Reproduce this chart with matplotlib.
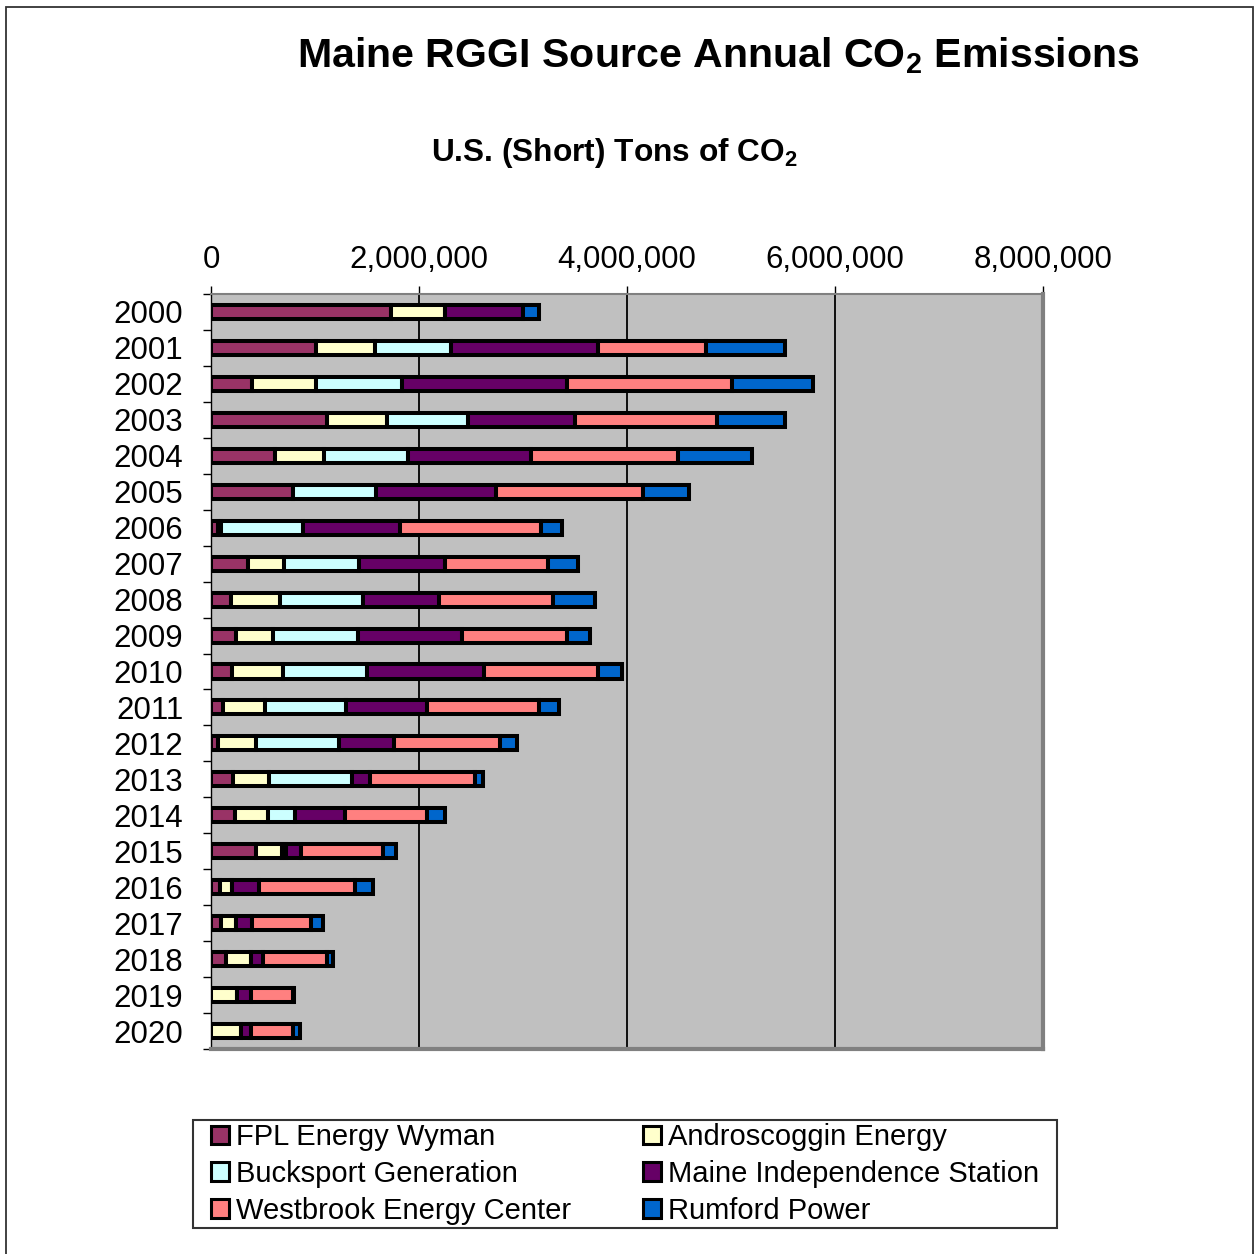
import numpy as np
import matplotlib.pyplot as plt
from matplotlib.patches import Rectangle

plt.rcParams['font.family'] = ['Liberation Sans', 'DejaVu Sans']
plt.rcParams['mathtext.fontset'] = 'custom'
plt.rcParams['mathtext.rm'] = 'Liberation Sans'
plt.rcParams['mathtext.bf'] = 'Liberation Sans:bold'

# data (short tons of CO2)
years = [str(y) for y in range(2000, 2021)]
wyman = [1734000, 1008000, 391000, 1120000, 613000, 793000, 65000, 353000, 189000, 241000,
         202000, 112000, 70000, 212000, 227000, 434000, 83000, 93000, 147000, 0, 0]
androscoggin = [520000, 568000, 620000, 568000, 476000, 0, 35000, 351000, 476000, 359000,
                487000, 411000, 363000, 350000, 322000, 253000, 122000, 145000, 238000, 250000, 292000]
bucksport = [0, 732000, 822000, 787000, 809000, 797000, 783000, 719000, 796000, 809000,
             809000, 771000, 796000, 797000, 256000, 35000, 0, 0, 0, 0, 0]
maine_indep = [748000, 1413000, 1592000, 1027000, 1181000, 1149000, 938000, 823000, 732000, 1002000,
               1131000, 783000, 527000, 167000, 488000, 145000, 254000, 158000, 112000, 135000, 90000]
westbrook = [0, 1040000, 1580000, 1362000, 1413000, 1419000, 1349000, 998000, 1092000, 1014000,
             1092000, 1079000, 1021000, 1014000, 783000, 783000, 925000, 564000, 616000, 400000, 408000]
rumford = [148000, 754000, 780000, 651000, 706000, 437000, 202000, 289000, 408000, 219000,
           228000, 193000, 161000, 77000, 171000, 125000, 177000, 113000, 61000, 15000, 67000]

series = [
    ("FPL Energy Wyman", wyman, "#993366"),
    ("Androscoggin Energy", androscoggin, "#FFFFCC"),
    ("Bucksport Generation", bucksport, "#CCFFFF"),
    ("Maine Independence Station", maine_indep, "#660066"),
    ("Westbrook Energy Center", westbrook, "#FF8080"),
    ("Rumford Power", rumford, "#0066CC"),
]

fig = plt.figure(figsize=(12.54, 12.54), dpi=100)
ax = fig.add_axes([211 / 1254, 1 - 1049 / 1254, 832 / 1254, 755 / 1254])
ax.set_facecolor('#C0C0C0')

ypos = np.arange(len(years))
left = np.zeros(len(years))
handles = []
for name, vals, col in series:
    vals = np.array(vals, dtype=float)
    b = ax.barh(ypos, vals, left=left, height=0.39, color=col,
                edgecolor='black', linewidth=2.9, label=name, zorder=3)
    handles.append(b)
    left += vals

ax.set_xlim(0, 8000000)
ax.set_ylim(20.5, -0.5)
ax.xaxis.tick_top()
ax.set_xticks([0, 2000000, 4000000, 6000000, 8000000])
ax.set_xticklabels(['0', '2,000,000', '4,000,000', '6,000,000', '8,000,000'])
ax.tick_params(axis='x', top=True, direction='out', length=6, width=1,
               color='black', pad=8, labelsize=22.5)
ax.set_yticks(ypos)
ax.set_yticklabels(years)
ax.set_yticks(np.arange(-0.5, 21, 1), minor=True)
ax.tick_params(axis='y', which='major', length=0, pad=20, labelsize=22.5)
ax.tick_params(axis='y', which='minor', length=6, width=1, color='black', direction='out')
ax.tick_params(axis='x', which='minor', length=0)

ax.grid(axis='x', color='black', linewidth=1.3, zorder=1)
ax.set_axisbelow(True)

ax.spines['left'].set_color('black')
ax.spines['left'].set_linewidth(1)
ax.spines['top'].set_color('#808080')
ax.spines['top'].set_linewidth(1.5)
ax.spines['right'].set_color('#808080')
ax.spines['right'].set_linewidth(3)
ax.spines['bottom'].set_color('#808080')
ax.spines['bottom'].set_linewidth(3)

fig.text(718 / 1254, 1 - 56 / 1254, r'Maine RGGI Source Annual CO$_\mathbf{2}$ Emissions',
         ha='center', va='center', fontsize=29.6, fontweight='bold')
fig.text(614 / 1254, 1 - 153 / 1254, r'U.S. (Short) Tons of CO$_\mathbf{2}$',
         ha='center', va='center', fontsize=22.8, fontweight='bold')

# legend frame drawn separately, entries spread across it
fig.patches.append(Rectangle((193 / 1254, 1 - 1228 / 1254), 864 / 1254, 108 / 1254,
                             transform=fig.transFigure, fill=False,
                             edgecolor='#333333', linewidth=1.5))
# legend is filled column-wise, so reorder to read row by row
order = [0, 2, 4, 1, 3, 5]
leg = fig.legend([handles[i] for i in order], [series[i][0] for i in order],
                 loc='center', ncol=2, mode='expand',
                 bbox_to_anchor=(211 / 1254, 1 - 1228 / 1254, 828 / 1254, 108 / 1254),
                 borderaxespad=0, borderpad=0, fontsize=21, frameon=False,
                 handlelength=0.6, handleheight=0.6, handletextpad=0.24,
                 labelspacing=0.3)
for p in leg.get_patches():
    p.set_linewidth(2.2)

# outer border around the chart
fig.patches.append(Rectangle((6 / 1254, -0.01), 1247 / 1254, 1 - 7 / 1254 + 0.01,
                             transform=fig.transFigure, fill=False,
                             edgecolor='#333333', linewidth=1.3))

fig.savefig('out.png', dpi=100)
